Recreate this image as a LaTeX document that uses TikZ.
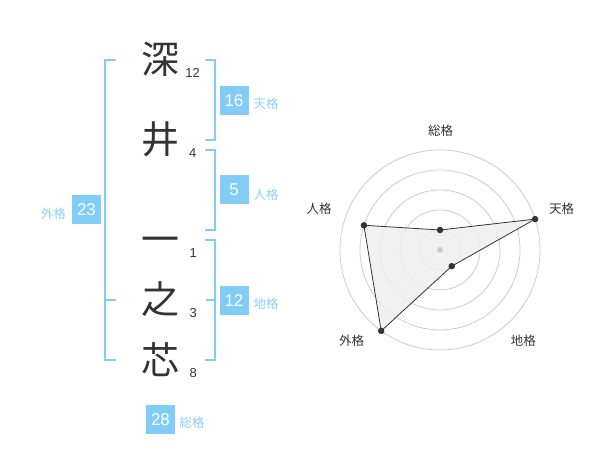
\documentclass[tikz,border=0pt]{standalone}
\usepackage{fontspec}
\setmainfont{Liberation Sans}
\newfontfamily\cjk{Noto Sans CJK JP}
\definecolor{sky}{HTML}{82CDF8}
\definecolor{skytext}{HTML}{8DD0F5}
\definecolor{ink}{HTML}{333333}
\definecolor{ringc}{HTML}{CCCCCC}
\definecolor{areafill}{HTML}{EEEEEE}
\begin{document}
\begin{tikzpicture}[x=1pt,y=-1pt,
  kanji/.style={font=\cjk\fontsize{38}{38}\selectfont, text=ink, inner sep=0, anchor=base},
  strokes/.style={font=\fontsize{13}{13}\selectfont, text=ink, inner sep=0},
  score/.style={fill=sky, text=white, minimum width=29, minimum height=29, inner sep=0, font=\fontsize{17}{17}\selectfont},
  lbl/.style={font=\cjk\fontsize{12.5}{12.5}\selectfont, text=skytext, inner sep=0},
  bracket/.style={draw=sky, line width=2},
  ring/.style={draw=ringc, line width=0.8},
  axlbl/.style={font=\cjk\fontsize{12.5}{12.5}\selectfont, text=ink, inner sep=0},
  dot/.style={circle, fill=ink, inner sep=0, minimum size=6.5}
]
\useasboundingbox (0,0) rectangle (600,470);

% kanji
\node[kanji] (k1) at (160.5,74) {深};
\node[kanji] (k2) at (160,154) {井};
\node[kanji] (k3) at (160,254) {一};
\node[kanji] (k4) at (160,314) {之};
\node[kanji] (k5) at (160,374) {芯};
% stroke counts
\node[strokes] (n1) at (192.7,72.7) {12};
\node[strokes] (n2) at (192.7,153.3) {4};
\node[strokes] (n3) at (193.3,253.3) {1};
\node[strokes] (n4) at (193.3,313.3) {3};
\node[strokes] (n5) at (193.3,373.3) {8};

% brackets
\draw[bracket] (116,60) -- (105,60) -- (105,360) -- (116,360);
\draw[bracket] (105,300) -- (116,300);
\draw[bracket] (205,60) -- (215,60) -- (215,140) -- (205,140);
\draw[bracket] (205,150) -- (215,150) -- (215,230) -- (205,230);
\draw[bracket] (205,240) -- (215,240) -- (215,360) -- (205,360);
\draw[bracket] (215,300) -- (206,300);

% scores
\node[score] (s16) at (234,100.5) {16};
\node[lbl] (l16) at (266,104.2) {天格};
\node[score] (s5) at (234,190) {5};
\node[lbl] (l5) at (266,194.5) {人格};
\node[score] (s12) at (234,300.5) {12};
\node[lbl] (l12) at (266,304.2) {地格};
\node[score] (s23) at (86.5,210) {23};
\node[lbl] (l23) at (53.3,214) {外格};
\node[score] (s28) at (160.5,419.2) {28};
\node[lbl] (l28) at (192,422.5) {総格};

% radar chart
\begin{scope}[shift={(440,250)}, yscale=-1]
  \foreach \r in {20,40,60,80,100} \draw[ring] (0,0) circle[radius=\r];
  \coordinate (pS) at (90:20);
  \coordinate (pT) at (18:100);
  \coordinate (pC) at (-54:20);
  \coordinate (pG) at (-126:100);
  \coordinate (pJ) at (162:80);
  \fill[areafill, opacity=0.85] (pS) -- (pT) -- (pC) -- (pG) -- (pJ) -- cycle;
  \draw[ink, line width=0.8] (pS) -- (pT) -- (pC) -- (pG) -- (pJ) -- cycle;
  \node[circle, fill=ringc, inner sep=0, minimum size=6] (ctr) at (0,0) {};
  \foreach \p in {pS,pT,pC,pG,pJ} \node[dot] at (\p) {};
\end{scope}
\node[axlbl] (aS) at (440.7,130.7) {総格};
\node[axlbl] (aT) at (561.7,208.3) {天格};
\node[axlbl] (aJ) at (319,208.3) {人格};
\node[axlbl] (aG) at (351.7,341) {外格};
\node[axlbl] (aC) at (523.3,341) {地格};
\end{tikzpicture}
\end{document}
